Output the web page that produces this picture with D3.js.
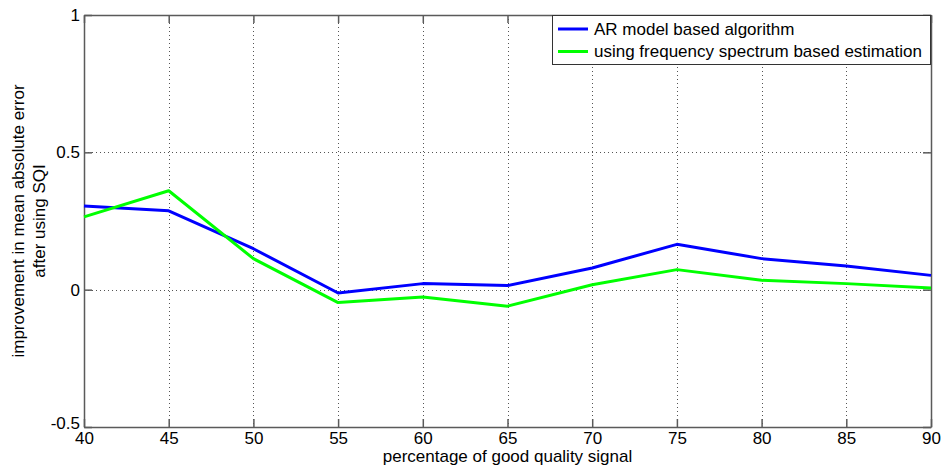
<!DOCTYPE html>
<html>
<head>
<meta charset="utf-8">
<script src="https://cdn.jsdelivr.net/npm/d3@7"></script>
<style>
  html, body { margin: 0; padding: 0; background: #fff; }
  svg { display: block; font-family: "Liberation Sans", Arial, Helvetica, sans-serif; }
</style>
</head>
<body>
<svg id="chart" width="943" height="470"></svg>
<script>
// Percentage of good quality signal (x axis)
const percentages = [40, 45, 50, 55, 60, 65, 70, 75, 80, 85, 90];
// Improvement in mean absolute error after using SQI
const arModel = [0.305, 0.287, 0.149, -0.012, 0.022, 0.015, 0.079, 0.165, 0.113, 0.086, 0.052];
const freqSpectrum = [0.265, 0.360, 0.113, -0.047, -0.027, -0.060, 0.018, 0.073, 0.034, 0.022, 0.006];

const xTicks = [40, 45, 50, 55, 60, 65, 70, 75, 80, 85, 90];
const yTicks = [-0.5, 0, 0.5, 1];

const seriesNames = ["AR model based algorithm", "using frequency spectrum based estimation"];
const seriesColors = ["#0000ff", "#00ff00"];

const svg = d3.select("#chart");
const margin = { left: 84, right: 12, top: 15, bottom: 43 };
const W = 943, H = 470;
const x0 = margin.left, x1 = W - margin.right;
const y0 = H - margin.bottom, y1 = margin.top;

const x = d3.scaleLinear().domain([40, 90]).range([x0, x1]);
const y = d3.scaleLinear().domain([-0.5, 1]).range([y0, y1]);

const fontSize = 17;
const axisColor = "#5a5a5a";
const tickLen = 8;

// Dotted grid
const grid = svg.append("g").attr("class", "grid")
  .attr("stroke", "#555").attr("stroke-width", 1).attr("stroke-dasharray", "1,3");
grid.selectAll("line.gx").data(xTicks.slice(1, -1)).join("line")
  .attr("x1", d => Math.round(x(d)) + 0.5).attr("x2", d => Math.round(x(d)) + 0.5)
  .attr("y1", y1).attr("y2", y0);
grid.selectAll("line.gy").data(yTicks.slice(1, -1)).join("line")
  .attr("y1", d => Math.round(y(d)) + 0.5).attr("y2", d => Math.round(y(d)) + 0.5)
  .attr("x1", x0).attr("x2", x1);

// Axes with inward ticks on all four sides
const fmtY = d => String(d);
const bottomAxis = d3.axisBottom(x).tickValues(xTicks).tickSize(-tickLen).tickPadding(5).tickSizeOuter(0);
const topAxis = d3.axisTop(x).tickValues(xTicks).tickSize(-tickLen).tickFormat("").tickSizeOuter(0);
const leftAxis = d3.axisLeft(y).tickValues(yTicks).tickSize(-tickLen).tickPadding(4).tickFormat(fmtY).tickSizeOuter(0);
const rightAxis = d3.axisRight(y).tickValues(yTicks).tickSize(-tickLen).tickFormat("").tickSizeOuter(0);

function styleAxis(g) {
  g.select(".domain").attr("stroke", axisColor).attr("stroke-width", 1.5);
  g.selectAll(".tick line").attr("stroke", axisColor).attr("stroke-width", 1.5);
  g.selectAll(".tick text").attr("fill", "#000").attr("font-size", fontSize)
    .attr("font-family", "Liberation Sans, Arial, sans-serif");
}

svg.append("g").attr("transform", `translate(0,${y0})`).call(bottomAxis).call(styleAxis);
svg.append("g").attr("transform", `translate(0,${y1})`).call(topAxis).call(styleAxis);
const gLeft = svg.append("g").attr("transform", `translate(${x0},0)`).call(leftAxis).call(styleAxis);
// lift the bottom y label slightly so it clears the first x label
gLeft.selectAll(".tick text").filter(d => d === -0.5).attr("dy", "0.1em");
svg.append("g").attr("transform", `translate(${x1},0)`).call(rightAxis).call(styleAxis);

// Data lines
const line = d3.line().x((d, i) => x(percentages[i])).y(d => y(d));
[arModel, freqSpectrum].forEach((vals, k) => {
  svg.append("path").datum(vals)
    .attr("fill", "none").attr("stroke", seriesColors[k])
    .attr("stroke-width", 3).attr("stroke-linejoin", "round")
    .attr("d", line);
});

// Legend
const lg = svg.append("g").attr("class", "legend");
const lgX = 552, lgY = 15, lgW = x1 - 1 - lgX, lgH = 49;
lg.append("rect").attr("x", lgX + 0.5).attr("y", lgY + 0.5).attr("width", lgW).attr("height", lgH)
  .attr("fill", "#fff").attr("stroke", "#333").attr("stroke-width", 1);
seriesNames.forEach((name, k) => {
  const cy = lgY + 14 + k * 22.5;
  lg.append("line").attr("x1", lgX + 6).attr("x2", lgX + 36).attr("y1", cy).attr("y2", cy)
    .attr("stroke", seriesColors[k]).attr("stroke-width", 3);
  lg.append("text").attr("x", lgX + 42).attr("y", cy).attr("dy", "0.35em")
    .attr("font-size", fontSize).attr("fill", "#000").text(name);
});

// Axis titles
svg.append("text").attr("x", (x0 + x1) / 2).attr("y", 462)
  .attr("text-anchor", "middle").attr("font-size", fontSize).text("percentage of good quality signal");

const yl = svg.append("text").attr("text-anchor", "middle").attr("font-size", fontSize)
  .attr("transform", `translate(24,${(y0 + y1) / 2}) rotate(-90)`);
yl.append("tspan").attr("x", 0).attr("y", 0).text("improvement in mean absolute error");
yl.append("tspan").attr("x", 0).attr("y", 21).text("after using SQI");
</script>
</body>
</html>
